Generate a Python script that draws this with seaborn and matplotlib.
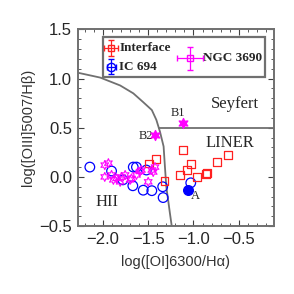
import numpy as np
import pandas as pd
import matplotlib
matplotlib.use("Agg")
import matplotlib.pyplot as plt
import seaborn as sns
from matplotlib.patches import Rectangle
from matplotlib.ticker import MultipleLocator

# Interface (red open squares)
int_x = [-1.49, -1.415, -1.32, -1.12, -1.15, -1.075, -1.025, -0.958, -0.855, -0.86, -0.74, -0.615]
int_y = [0.137, 0.178, -0.04, 0.27, 0.02, 0.07, 0.13, -0.005, 0.04, 0.03, 0.15, 0.22]

# IC 694 (blue open circles) + region A (filled)
ic_x = [-2.145, -1.905, -1.78, -1.665, -1.63, -1.67, -1.555, -1.46, -1.52, -1.34, -1.335, -1.03]
ic_y = [0.10, 0.06, -0.03, 0.10, 0.10, -0.09, -0.135, -0.14, 0.07, -0.10, -0.21, -0.06]
a_x, a_y = [-1.065], [-0.135]

# NGC 3690 (magenta stars) + regions B1, B2 (filled)
ngc_x = [-1.98, -1.94, -1.98, -1.905, -1.85, -1.795, -1.755, -1.70, -1.63, -1.59,
         -1.50, -1.46, -1.425, -1.885, -1.81, -1.685, -1.575, -1.445]
ngc_y = [0.12, 0.14, 0.0, 0.02, -0.015, 0.0, 0.02, -0.03, 0.02, 0.055,
         -0.05, 0.07, 0.10, -0.03, -0.05, -0.015, 0.07, 0.05]
b_x = [-1.12, -1.425]
b_y = [0.55, 0.43]

# boundary lines
hii_x = [-2.28, -2.03, -1.81, -1.665, -1.555, -1.46, -1.41, -1.37, -1.33, -1.315, -1.30, -1.26, -1.24]
hii_y = [1.06, 1.01, 0.93, 0.85, 0.76, 0.68, 0.58, 0.46, 0.31, 0.10, -0.10, -0.37, -0.5]
sl_x = [-1.38, -0.11]
sl_y = [0.5, 0.5]

sns.set_style("ticks")
plt.rcParams["font.family"] = ["Liberation Sans", "DejaVu Sans"]

fig = plt.figure(figsize=(2.94, 2.94), dpi=100)
ax = fig.add_axes([0.264, 0.231, 0.668, 0.669])

ax.plot(hii_x, hii_y, color="#707070", lw=1.3, zorder=1)
ax.plot(sl_x, sl_y, color="#707070", lw=1.3, zorder=1)

df_int = pd.DataFrame({"x": int_x, "y": int_y})
df_ic = pd.DataFrame({"x": ic_x, "y": ic_y})
df_ngc = pd.DataFrame({"x": ngc_x, "y": ngc_y})

sns.scatterplot(data=df_ic, x="x", y="y", ax=ax, marker="o", s=48,
                facecolor="none", edgecolor="#0000ff", linewidth=0.9, zorder=3)
sns.scatterplot(data=df_int, x="x", y="y", ax=ax, marker="s", s=32,
                facecolor="none", edgecolor="#ff2020", linewidth=0.9, zorder=3)
sns.scatterplot(data=df_ngc, x="x", y="y", ax=ax, marker=(6, 1, 0), s=42,
                facecolor="none", edgecolor="#ff00ff", linewidth=0.8, zorder=4)
ax.scatter(a_x, a_y, marker="o", s=48, color="#0000ff", zorder=5)
ax.scatter(b_x, b_y, marker=(6, 1, 0), s=50, color="#ff00ff", zorder=5)

serif = ["Liberation Serif", "DejaVu Serif"]
ax.text(-0.54, 0.74, "Seyfert", family=serif, fontsize=12, ha="center", va="center")
ax.text(-0.595, 0.34, "LINER", family=serif, fontsize=12, ha="center", va="center")
ax.text(-1.96, -0.25, "HII", family=serif, fontsize=12, ha="center", va="center")
ax.text(-1.17, 0.645, "B1", family=serif, fontsize=9, ha="center", va="center")
ax.text(-1.52, 0.415, "B2", family=serif, fontsize=9, ha="center", va="center")
ax.text(-0.975, -0.19, "A", family=serif, fontsize=9, ha="center", va="center")

# legend box
ax.add_patch(Rectangle((-2.0, 1.018), 1.79, 0.407, fill=False, edgecolor="#707070",
                       lw=1.6, zorder=6))
ax.errorbar([-1.91], [1.31], xerr=0.074, yerr=0.085, fmt="s", ms=5, mfc="none",
            mec="#ff2020", ecolor="#ff2020", elinewidth=0.9, capsize=2, zorder=7)
ax.errorbar([-1.91], [1.12], xerr=0.05, yerr=0.076, fmt="o", ms=6, mfc="none",
            mec="#0000ff", ecolor="#0000ff", elinewidth=0.9, capsize=2, zorder=7)
ax.errorbar([-1.04], [1.205], xerr=0.147, yerr=0.12, fmt="s", ms=4, mfc="none",
            mec="#ff00ff", ecolor="#ff00ff", elinewidth=0.9, capsize=2, zorder=7)
ax.text(-1.82, 1.31, "Interface", family=serif, fontweight="bold", fontsize=9.5, va="center")
ax.text(-1.82, 1.12, "IC 694", family=serif, fontweight="bold", fontsize=9.5, va="center")
ax.text(-0.89, 1.205, "NGC 3690", family=serif, fontweight="bold", fontsize=9.5, va="center")

ax.set_xlim(-2.28, -0.11)
ax.set_ylim(-0.5, 1.5)
ax.xaxis.set_major_locator(MultipleLocator(0.5))
ax.xaxis.set_minor_locator(MultipleLocator(0.1))
ax.yaxis.set_major_locator(MultipleLocator(0.5))
ax.yaxis.set_minor_locator(MultipleLocator(0.1))
ax.tick_params(which="both", direction="in", top=True, right=True, color="#404040")
ax.tick_params(which="major", length=4, width=0.8, labelsize=12, pad=4)
ax.tick_params(which="minor", length=2, width=0.6)
for sp in ax.spines.values():
    sp.set_color("#707070")
    sp.set_linewidth(1.4)

ax.set_xlabel("log([OI]6300/H\u03b1)", fontsize=10.5, color="#333333", labelpad=6)
ax.set_ylabel("log([OIII]5007/H\u03b2)", fontsize=10.5, color="#333333", labelpad=3)

fig.savefig("out.png", dpi=100)
